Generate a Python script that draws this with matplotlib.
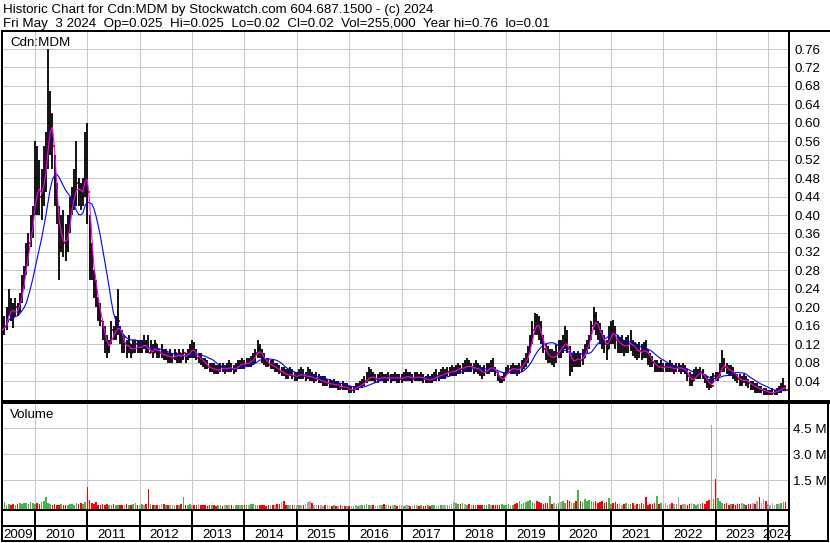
import numpy as np
import pandas as pd
import matplotlib
matplotlib.use("Agg")
import matplotlib.pyplot as plt
import matplotlib.transforms as mtransforms
from matplotlib.lines import Line2D

# ---------------- data (semi-monthly bars, mid-May 2009 .. May 2024) ----------------
hi = [
    .18, .18, .20, .24, .22, .21, .22, .21, .23, .27, .29, .34, .36, .40, .42,  # 2009
    .56, .55, .52, .50, .55, .58, .76, .67, .62, .53, .47, .42, .40, .41, .38, .40, .44, .46, .50, .56, .48, .47, .48, .58,  # 2010
    .60, .40, .34, .28, .26, .22, .21, .17, .16, .14, .13, .17, .16, .18, .24, .16, .15, .14, .13, .14, .12, .13, .13, .13,  # 2011
    .13, .13, .14, .13, .14, .13, .12, .13, .12, .11, .12, .11, .11, .10, .11, .10, .11, .10, .11, .10, .11, .10, .11, .12,  # 2012
    .13, .125, .11, .10, .10, .09, .09, .085, .08, .08, .08, .075, .075, .08, .08, .075, .08, .085, .08, .075, .08, .085, .085, .09,  # 2013
    .085, .09, .09, .095, .10, .11, .13, .12, .11, .10, .09, .09, .085, .085, .08, .08, .075, .07, .07, .065, .065, .07, .065, .06,  # 2014
    .06, .065, .07, .065, .06, .07, .065, .06, .055, .06, .055, .05, .05, .05, .045, .045, .04, .045, .04, .04, .035, .04, .035, .035,  # 2015
    .03, .03, .03, .035, .035, .04, .045, .05, .06, .07, .065, .06, .055, .055, .06, .06, .055, .055, .06, .055, .055, .06, .055, .055,  # 2016
    .055, .06, .065, .06, .06, .055, .06, .06, .055, .06, .055, .05, .055, .05, .055, .06, .065, .06, .065, .07, .065, .07, .07, .075,  # 2017
    .07, .075, .08, .075, .08, .085, .09, .085, .08, .08, .085, .08, .075, .07, .075, .08, .08, .085, .09, .07, .06, .05, .05, .06,  # 2018
    .07, .075, .075, .08, .075, .075, .08, .085, .09, .10, .115, .14, .17, .187, .185, .18, .17, .14, .12, .115, .11, .11, .105, .12,  # 2019
    .13, .13, .14, .16, .15, .115, .10, .105, .10, .105, .10, .11, .12, .13, .14, .17, .20, .19, .17, .165, .15, .14, .13, .16,  # 2020
    .17, .173, .16, .14, .135, .14, .13, .135, .14, .15, .13, .125, .12, .125, .12, .125, .13, .11, .10, .095, .085, .085, .08, .085,  # 2021
    .08, .08, .08, .085, .08, .075, .08, .08, .075, .08, .075, .065, .06, .055, .065, .07, .065, .07, .065, .055, .05, .045, .05, .057,  # 2022
    .06, .06, .08, .107, .09, .08, .075, .075, .07, .06, .055, .055, .05, .055, .05, .045, .04, .04, .035, .035, .03, .03, .025, .025,  # 2023
    .02, .02, .025, .02, .025, .03, .035, .046, .03,  # 2024
]
lo = [
    .13, .14, .15, .18, .17, .155, .18, .18, .19, .21, .24, .27, .29, .33, .35,
    .40, .40, .40, .39, .42, .45, .50, .53, .50, .42, .38, .26, .32, .31, .30, .32, .36, .40, .41, .42, .42, .41, .42, .44,
    .38, .26, .26, .22, .20, .17, .16, .13, .10, .09, .10, .12, .13, .13, .14, .12, .10, .10, .09, .10, .09, .10, .10, .10,
    .10, .10, .11, .10, .10, .10, .09, .10, .09, .09, .09, .085, .085, .08, .08, .08, .085, .08, .08, .08, .085, .08, .085, .09,
    .09, .09, .085, .08, .075, .07, .065, .065, .06, .06, .055, .055, .055, .06, .06, .055, .06, .06, .06, .055, .06, .065, .065, .065,
    .065, .07, .07, .07, .075, .08, .09, .09, .08, .075, .07, .07, .065, .065, .06, .06, .055, .05, .05, .045, .045, .05, .045, .04,
    .04, .045, .045, .045, .04, .045, .04, .04, .035, .04, .035, .035, .03, .03, .03, .025, .025, .025, .025, .02, .02, .02, .02, .02,
    .015, .015, .015, .02, .02, .025, .025, .03, .035, .04, .04, .04, .035, .035, .04, .04, .035, .035, .04, .035, .04, .04, .035, .035,
    .035, .04, .04, .04, .04, .035, .04, .04, .04, .04, .035, .035, .035, .035, .035, .04, .04, .04, .045, .045, .045, .05, .05, .05,
    .05, .05, .055, .055, .055, .06, .06, .06, .06, .055, .06, .055, .05, .045, .05, .055, .055, .06, .06, .05, .04, .035, .035, .04,
    .05, .055, .055, .055, .055, .05, .055, .06, .065, .07, .08, .10, .12, .14, .14, .13, .12, .10, .085, .08, .08, .075, .07, .08,
    .09, .09, .10, .11, .10, .05, .06, .07, .07, .07, .07, .075, .09, .10, .11, .13, .15, .14, .13, .12, .11, .10, .085, .11,
    .12, .12, .11, .10, .10, .10, .095, .10, .10, .105, .095, .09, .085, .09, .085, .09, .09, .075, .07, .07, .06, .06, .06, .06,
    .06, .06, .06, .06, .06, .055, .06, .06, .055, .06, .055, .04, .03, .03, .04, .045, .045, .045, .045, .035, .025, .02, .025, .035,
    .04, .04, .05, .06, .06, .055, .05, .05, .045, .04, .035, .03, .03, .035, .03, .025, .02, .02, .015, .015, .015, .015, .01, .01,
    .01, .01, .01, .01, .01, .015, .015, .02, .02,
]
cl = [
    .15, .16, .17, .21, .19, .18, .20, .19, .22, .25, .27, .32, .34, .37, .40,
    .48, .45, .44, .45, .50, .52, .60, .62, .55, .45, .40, .33, .36, .34, .33, .37, .42, .44, .45, .47, .45, .44, .46, .52,
    .45, .32, .30, .25, .22, .19, .17, .15, .12, .11, .12, .15, .14, .15, .17, .14, .12, .12, .11, .12, .10, .11, .12, .11,
    .11, .12, .12, .11, .10, .11, .10, .12, .10, .10, .10, .09, .10, .09, .09, .09, .10, .09, .10, .09, .10, .09, .10, .11,
    .11, .10, .09, .09, .085, .08, .075, .07, .065, .07, .065, .06, .065, .07, .065, .065, .07, .07, .065, .065, .07, .075, .075, .08,
    .075, .08, .08, .085, .09, .10, .11, .10, .09, .085, .08, .075, .075, .07, .07, .065, .06, .06, .055, .05, .055, .055, .05, .05,
    .05, .055, .055, .05, .05, .05, .05, .045, .045, .045, .04, .04, .04, .035, .035, .035, .03, .035, .03, .03, .025, .03, .025, .025,
    .02, .02, .025, .025, .03, .03, .035, .04, .045, .05, .05, .045, .045, .045, .045, .05, .045, .045, .05, .045, .045, .05, .045, .045,
    .045, .05, .05, .05, .045, .045, .05, .05, .045, .05, .045, .04, .045, .04, .045, .05, .05, .05, .055, .055, .055, .06, .06, .06,
    .06, .065, .07, .065, .07, .07, .075, .07, .07, .065, .07, .065, .06, .055, .06, .065, .07, .07, .065, .06, .05, .04, .045, .05,
    .06, .065, .065, .07, .065, .06, .07, .075, .08, .09, .10, .13, .15, .17, .16, .15, .13, .11, .10, .09, .095, .09, .09, .10,
    .11, .11, .12, .13, .11, .08, .08, .09, .085, .09, .085, .09, .11, .12, .13, .16, .18, .16, .15, .14, .13, .12, .11, .14,
    .15, .14, .13, .12, .12, .12, .11, .12, .12, .125, .11, .11, .10, .105, .10, .11, .105, .09, .085, .08, .07, .075, .065, .07,
    .07, .07, .07, .07, .065, .065, .07, .07, .065, .065, .065, .05, .04, .04, .05, .055, .055, .06, .05, .045, .035, .03, .03, .05,
    .045, .05, .07, .08, .07, .065, .06, .065, .055, .05, .045, .04, .04, .045, .04, .035, .03, .03, .025, .025, .02, .02, .02, .015,
    .015, .015, .015, .015, .02, .02, .025, .03, .02,
]
vol_m = [  # millions of shares
    0.18, 0.22, 0.1, 0.15, 0.08, 0.12, 0.1, 0.15, 0.2, 0.12, 0.18, 0.2, 0.15, 0.25, 0.2,
    0.15, 0.2, 0.12, 0.25, 0.3, 0.55, 0.2, 0.15, 0.1, 0.12, 0.08, 0.1, 0.12, 0.1, 0.08, 0.1, 0.15, 0.12, 0.1, 0.18, 0.15, 0.2, 0.12, 0.25,
    1.1, 0.35, 0.2, 0.15, 0.25, 0.1, 0.08, 0.12, 0.1, 0.15, 0.08, 0.1, 0.12, 0.08, 0.1, 0.06, 0.08, 0.1, 0.12, 0.08, 0.1, 0.15, 0.2, 0.1,
    0.1, 0.12, 0.08, 0.15, 1.0, 0.12, 0.08, 0.1, 0.06, 0.08, 0.12, 0.15, 0.08, 0.06, 0.1, 0.08, 0.06, 0.1, 0.08, 0.12, 0.55, 0.1, 0.08, 0.12,
    0.1, 0.08, 0.06, 0.15, 0.08, 0.05, 0.06, 0.04, 0.05, 0.08, 0.06, 0.04, 0.05, 0.06, 0.04, 0.05, 0.08, 0.06, 0.05, 0.04, 0.06, 0.08, 0.05, 0.06,
    0.08, 0.1, 0.06, 0.12, 0.15, 0.1, 0.08, 0.06, 0.05, 0.06, 0.04, 0.05, 0.06, 0.08, 0.1, 0.12, 0.15, 0.25, 0.3, 0.1, 0.08, 0.06, 0.05, 0.06,
    0.06, 0.08, 0.05, 0.1, 0.15, 0.25, 0.3, 0.2, 0.08, 0.06, 0.1, 0.05, 0.04, 0.06, 0.05, 0.04, 0.03, 0.05, 0.04, 0.03, 0.05, 0.04, 0.03, 0.04,
    0.03, 0.04, 0.03, 0.05, 0.04, 0.06, 0.08, 0.1, 0.12, 0.08, 0.06, 0.05, 0.04, 0.06, 0.05, 0.1, 0.15, 0.08, 0.05, 0.04, 0.06, 0.05, 0.04, 0.05,
    0.05, 0.04, 0.06, 0.05, 0.04, 0.03, 0.05, 0.06, 0.04, 0.05, 0.03, 0.04, 0.05, 0.04, 0.06, 0.05, 0.04, 0.06, 0.08, 0.05, 0.06, 0.08, 0.1, 0.12,
    0.25, 0.2, 0.15, 0.12, 0.2, 0.15, 0.1, 0.12, 0.08, 0.1, 0.06, 0.08, 0.1, 0.06, 0.08, 0.1, 0.12, 0.08, 0.1, 0.06, 0.08, 0.1, 0.12, 0.08,
    0.1, 0.12, 0.08, 0.1, 0.15, 0.2, 0.3, 0.15, 0.2, 0.25, 0.3, 0.35, 0.25, 0.2, 0.3, 0.25, 0.2, 0.15, 0.2, 0.2, 0.6, 0.15, 0.2, 0.15,
    0.2, 0.25, 0.3, 0.2, 0.35, 0.3, 0.25, 0.2, 0.3, 0.95, 0.3, 0.25, 0.4, 0.3, 0.35, 0.3, 0.25, 0.3, 0.2, 0.25, 0.3, 0.2, 0.25, 0.5,
    0.15, 0.2, 0.25, 0.15, 0.2, 0.1, 0.15, 0.2, 0.12, 0.15, 0.2, 0.1, 0.15, 0.12, 0.2, 0.15, 0.55, 0.1, 0.15, 0.12, 0.2, 0.6, 0.15, 0.2,
    0.15, 0.2, 0.1, 0.15, 0.2, 0.12, 0.15, 0.55, 0.1, 0.15, 0.12, 0.1, 0.15, 0.2, 0.12, 0.1, 0.15, 0.12, 0.2, 0.15, 0.3, 0.35, 4.7, 0.4,
    1.6, 0.5, 0.3, 0.2, 0.15, 0.2, 0.1, 0.15, 0.12, 0.1, 0.15, 0.12, 0.2, 0.15, 0.1, 0.12, 0.15, 0.2, 0.15, 0.3, 0.55, 0.2, 0.4, 0.3,
    0.15, 0.1, 0.2, 0.1, 0.12, 0.15, 0.2, 0.25, 0.255,
]
years = list(range(2009, 2025))
price_ticks = [0.04, 0.08, 0.12, 0.16, 0.20, 0.24, 0.28, 0.32, 0.36, 0.40,
               0.44, 0.48, 0.52, 0.56, 0.60, 0.64, 0.68, 0.72, 0.76]
vol_ticks = [1.5, 3.0, 4.5]
vol_tick_labels = ["1.5 M", "3.0 M", "4.5 M"]
title_1 = "Historic Chart for Cdn:MDM by Stockwatch.com 604.687.1500 - (c) 2024"
title_2 = ("Fri May  3 2024  Op=0.025  Hi=0.025  Lo=0.02  Cl=0.02  "
           "Vol=255,000  Year hi=0.76  lo=0.01")
symbol_label = "Cdn:MDM"
volume_label = "Volume"

assert len(hi) == len(lo) == len(cl) == len(vol_m) == 360

# ---------------- layout helpers (pixels) ----------------
W, H, DPI = 830, 543, 100
plt.rcParams['font.family'] = ['Liberation Sans', 'DejaVu Sans']
FS = 9.6
TXT = '#000000'
GRID = '#c8c8c8'
LW_BORDER = 1.44

fig = plt.figure(figsize=(W / DPI, H / DPI), dpi=DPI, facecolor='white')


def rect(x0, y0, x1, y1):
    return [x0 / W, 1 - y1 / H, (x1 - x0) / W, (y1 - y0) / H]


X0, X1 = 2, 789
PXY = 52.36                      # pixels per year
T_LEFT = 2010 + (X0 - 35) / PXY
T_RIGHT = 2010 + (X1 - 35) / PXY


def price_at(ypx):               # 0.76 at y=49, 0.04 at y=381
    return 0.04 + (381 - ypx) * 0.72 / 332


def vol_at(ypx):                 # 1.5M at y=480.3, 4.5M at y=428.3
    return 1.5 + (480.3 - ypx) * 1.5 / 26


t = 2009.375 + np.arange(len(cl)) / 24.0
hi_a, lo_a, cl_a, vol_a = map(np.asarray, (hi, lo, cl, vol_m))
ma_fast = pd.Series(cl_a).rolling(3, min_periods=1).mean()
ma_slow = pd.Series(cl_a).rolling(12, min_periods=1).mean()

# ---------------- price panel ----------------
P_TOP, P_BOT = 31, 400.5
ax = fig.add_axes(rect(X0, P_TOP, X1, P_BOT))
ax.set_xlim(T_LEFT, T_RIGHT)
ax.set_ylim(price_at(P_BOT), price_at(P_TOP))
ax.set_axisbelow(True)
ax.set_xticks(years[1:])
ax.set_yticks(price_ticks)
ax.set_yticklabels([f"{v:.2f}" for v in price_ticks])
ax.yaxis.tick_right()
ax.tick_params(axis='x', length=0, labelbottom=False)
ax.tick_params(axis='y', length=0, pad=4.3, labelsize=FS, labelcolor=TXT)
ax.grid(True, color=GRID, lw=0.75)
for s in ax.spines.values():
    s.set_linewidth(LW_BORDER)
    s.set_color('black')

ax.scatter(t + 1.3 / PXY, cl_a, s=2.4, marker='s', color='#ff0000', lw=0, zorder=2)
ax.vlines(t, lo_a, hi_a, colors='black', lw=1.3, zorder=3)
ax.plot(t, ma_slow, color='#0000ff', lw=0.8, zorder=4)
ax.plot(t, ma_fast, color='#ff00ff', lw=0.8, zorder=5)
ax.text(8 / (X1 - X0), 1 - (45.7 - P_TOP) / (P_BOT - P_TOP), symbol_label,
        transform=ax.transAxes, fontsize=FS, color=TXT, va='baseline', ha='left')

# ---------------- volume panel ----------------
V_TOP, V_BOT = 403, 510
av = fig.add_axes(rect(X0, V_TOP, X1, V_BOT))
av.set_xlim(T_LEFT, T_RIGHT)
v_lo = vol_at(V_BOT)
av.set_ylim(v_lo, vol_at(V_TOP))
av.set_axisbelow(True)
av.set_xticks(years[1:])
av.set_yticks(vol_ticks)
av.set_yticklabels(vol_tick_labels)
av.yaxis.tick_right()
av.tick_params(axis='x', length=0, labelbottom=False)
av.tick_params(axis='y', length=0, pad=2.9, labelsize=FS, labelcolor=TXT)
av.grid(True, color=GRID, lw=0.75)
for s in av.spines.values():
    s.set_linewidth(LW_BORDER)
    s.set_color('black')

chg = np.sign(np.round(np.diff(cl_a, prepend=cl_a[0]), 5))
vcol = np.where(chg > 0, '#4cb04c', np.where(chg < 0, '#ff0000', '#a8a8a8'))
av.bar(t, vol_a - v_lo, bottom=v_lo, width=1.6 / PXY, color=vcol, lw=0, zorder=2)
av.text(8 / (X1 - X0), 1 - (418.3 - V_TOP) / (V_BOT - V_TOP), volume_label,
        transform=av.transAxes, fontsize=FS, color=TXT, va='baseline', ha='left')

# ---------------- year label strip ----------------
B_TOP, B_BOT = 510, 541
ab = fig.add_axes(rect(X0, B_TOP, X1, B_BOT))
ab.set_xlim(T_LEFT, T_RIGHT)
ab.set_ylim(0, 1)
ab.set_xticks([])
ab.set_yticks([])
for s in ab.spines.values():
    s.set_linewidth(LW_BORDER)
    s.set_color('black')
mid = (B_BOT - 526) / (B_BOT - B_TOP)
ab.axhline(mid, color='black', lw=LW_BORDER)
for yr in years[1:]:
    ab.axvline(yr, color='black', lw=LW_BORDER)
label_y = (B_BOT - 534.5) / (B_BOT - B_TOP)
shift = mtransforms.offset_copy(ab.transData, fig=fig, x=10, y=0, units='dots')
for yr in years:
    if yr == years[0]:
        ab.text(0.002, label_y, str(yr), transform=ab.transAxes, fontsize=FS,
                color=TXT, ha='left', va='center')
    elif yr == years[-1]:
        ab.text(1.004, label_y, str(yr), transform=ab.transAxes, fontsize=FS,
                color=TXT, ha='right', va='center', clip_on=False)
    else:
        ab.text(yr, label_y, str(yr), transform=mtransforms.blended_transform_factory(shift, ab.transAxes),
                fontsize=FS, color=TXT, ha='left', va='center')

# ---------------- outer frame pieces ----------------
def fline(x0, y0, x1, y1):
    fig.add_artist(Line2D([x0 / W, x1 / W], [1 - y0 / H, 1 - y1 / H],
                          color='black', lw=LW_BORDER, solid_capstyle='projecting'))

fline(X1, P_TOP, W, P_TOP)
fline(X1, P_BOT, W, P_BOT)
fline(X1, V_TOP, W, V_TOP)
fline(828, P_BOT, 828, B_BOT)
fline(X1, B_BOT, 828, B_BOT)

# ---------------- title ----------------
fig.text(3 / W, 1 - 13.3 / H, title_1, fontsize=FS, color=TXT, ha='left', va='baseline')
fig.text(3 / W, 1 - 27.3 / H, title_2, fontsize=FS, color=TXT, ha='left', va='baseline')

fig.savefig('out.png', dpi=DPI, facecolor='white')
